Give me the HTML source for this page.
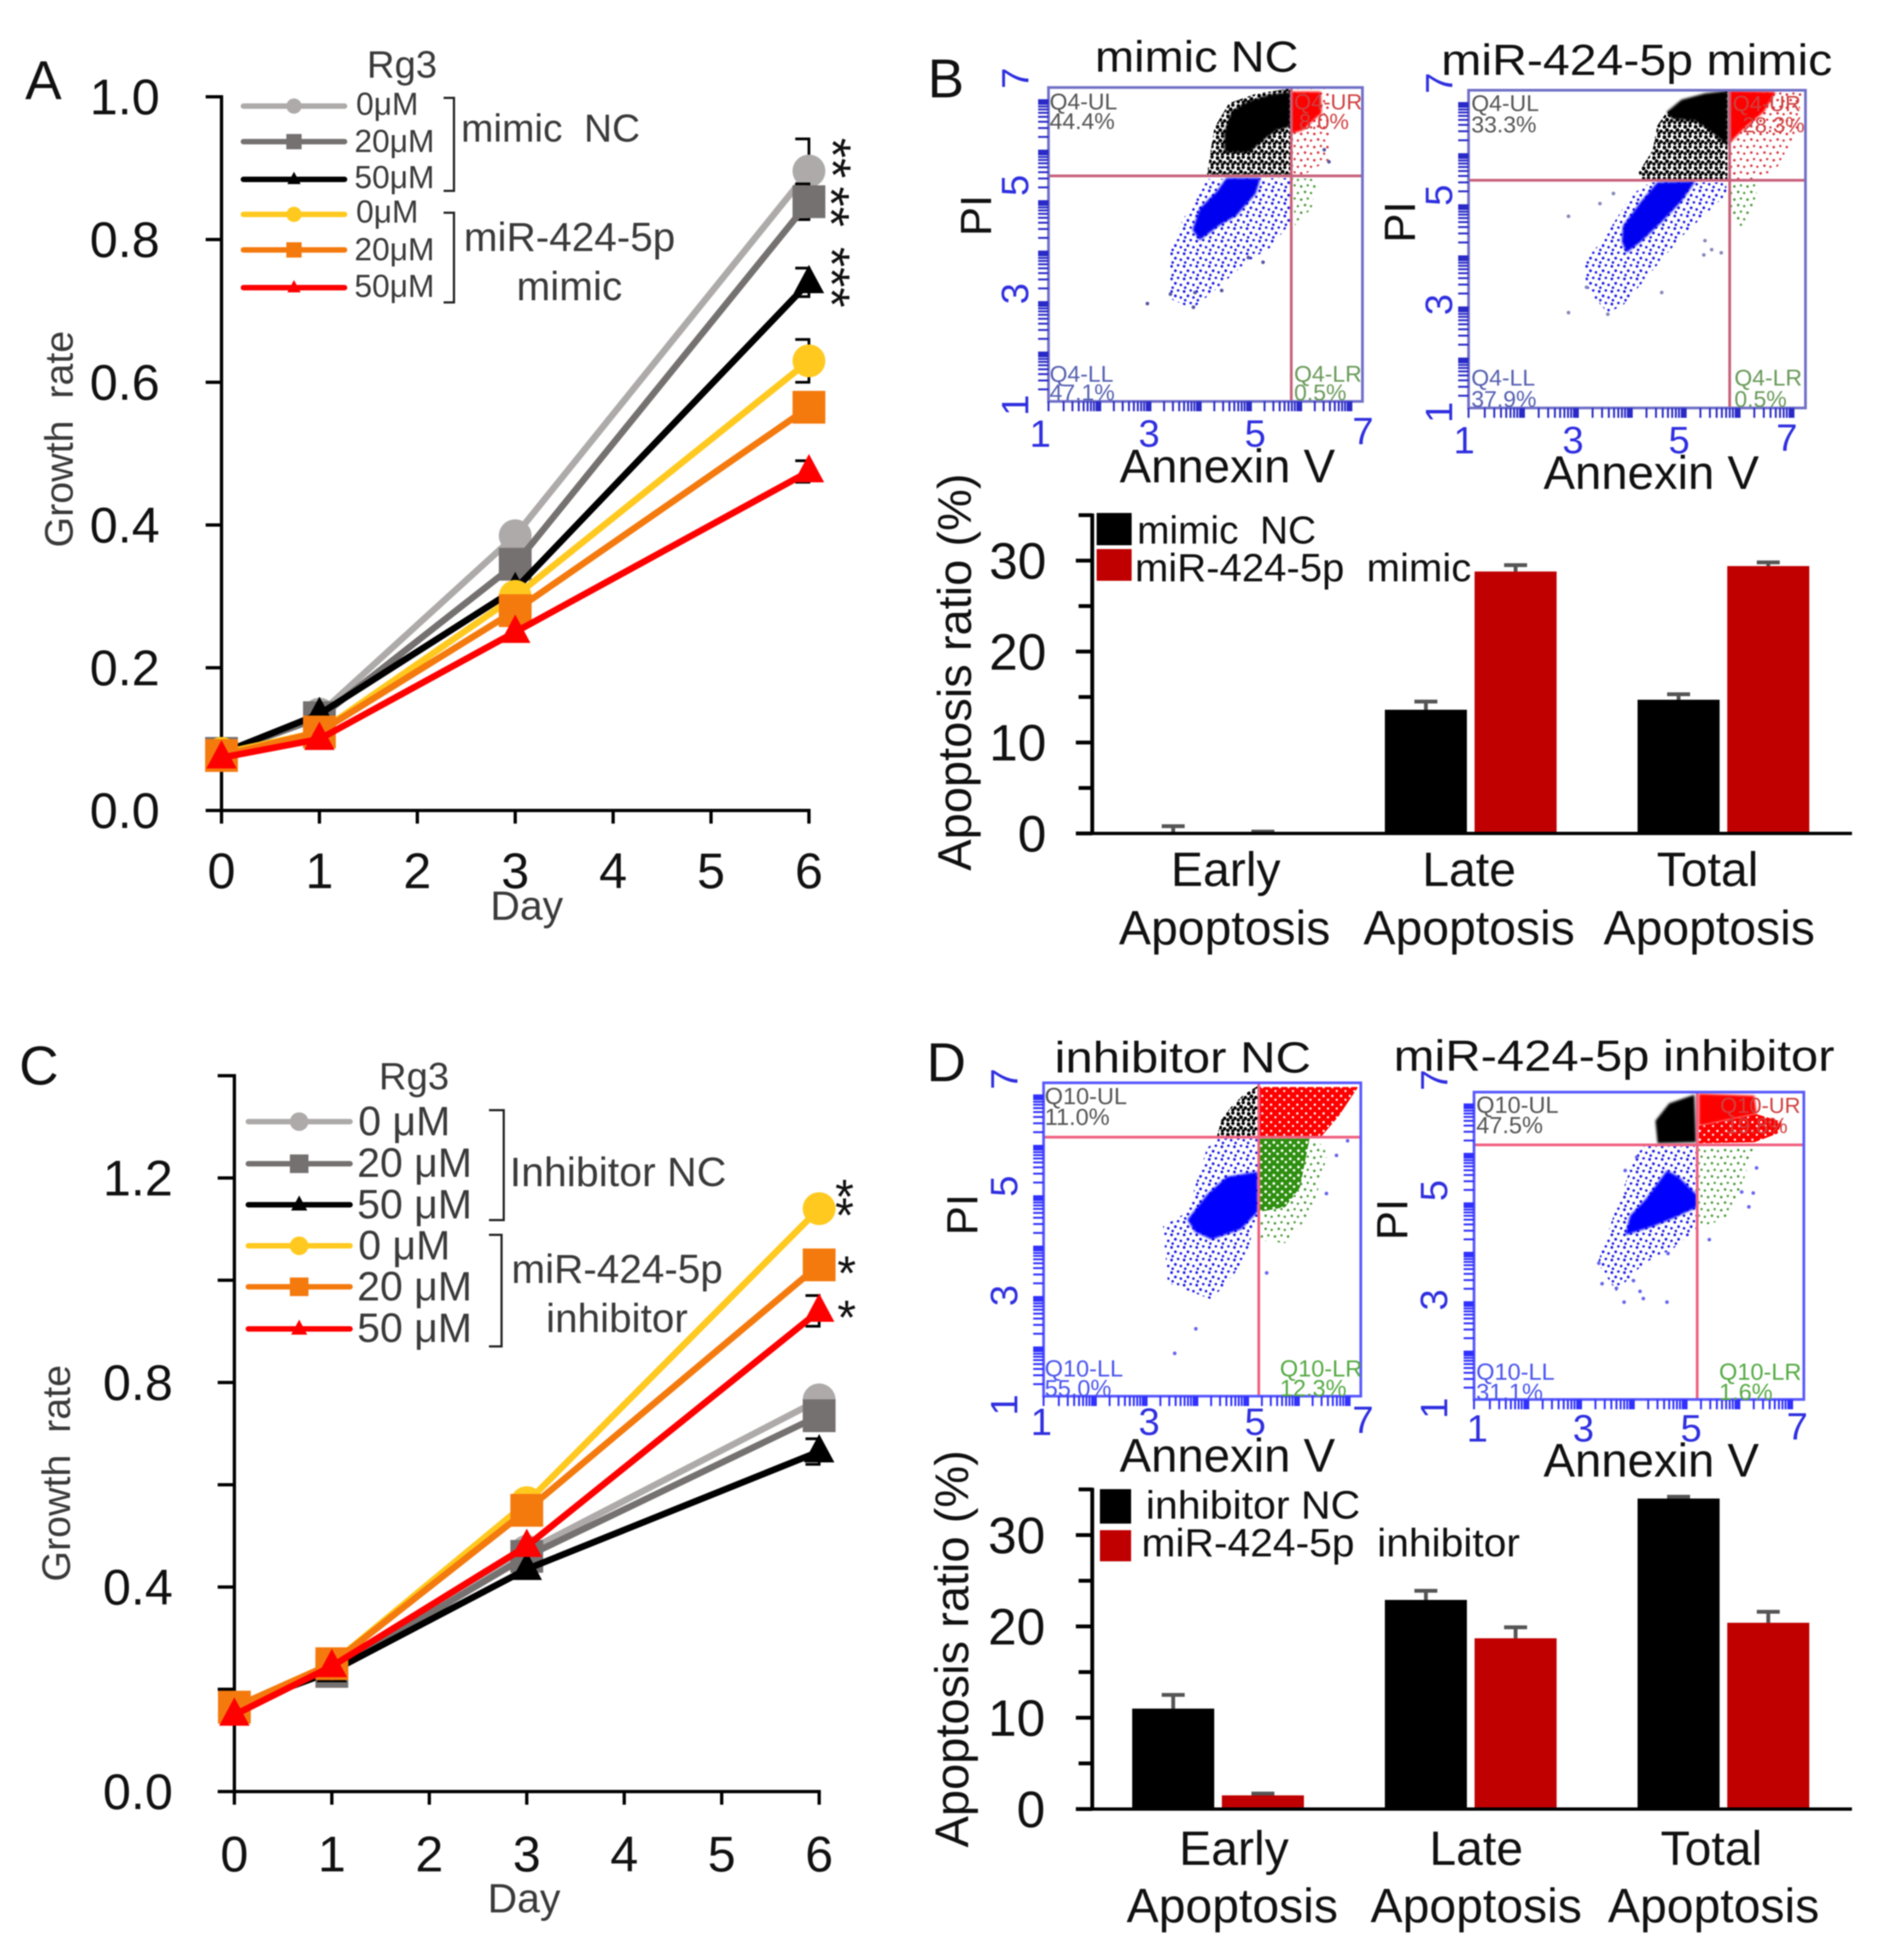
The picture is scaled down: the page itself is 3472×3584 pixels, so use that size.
<!DOCTYPE html>
<html lang="en">
<head>
<meta charset="utf-8">
<title>Growth rate and apoptosis panels</title>
<style>
html,body{margin:0;padding:0;background:#fff;}
svg{display:block;filter:blur(1.1px);}
text{font-family:"Liberation Sans",Arial,sans-serif;fill:#111;}
.gr{fill:#3a3a3a;}
.panel{font-size:100px;}
.ltick{font-size:92px;text-anchor:end;}
.fx{font-size:70px;fill:#2f2fe0;text-anchor:middle;}
.fy{font-size:70px;fill:#2f2fe0;text-anchor:middle;}
.pi{font-size:80px;text-anchor:middle;}
.ann{font-size:86px;}
.ttl{font-size:80px;}
.qg{font-size:42px;fill:#555;}
.qb{font-size:42px;fill:#5560b0;}
.qv{font-size:42px;fill:#6a9a5a;}
.qr{font-size:40px;fill:#d04040;}
.qg2{font-size:43px;fill:#555;}
.qb2{font-size:43px;fill:#4a55ee;}
.qv2{font-size:43px;fill:#55aa44;}
.cat{font-size:88px;text-anchor:middle;}
.star{font-size:95px;}
</style>
</head>
<body>
<svg id="fig" xmlns="http://www.w3.org/2000/svg" width="3472" height="3584" viewBox="0 0 3472 3584">
<defs>
<filter id="soft" x="-5%" y="-5%" width="110%" height="110%"><feGaussianBlur stdDeviation="2.2"/></filter>
<pattern id="dots-black" width="19" height="19" patternUnits="userSpaceOnUse"><circle cx="3" cy="4" r="3.6" fill="#000"/><circle cx="12" cy="2" r="3.2" fill="#000"/><circle cx="8" cy="10" r="3.6" fill="#000"/><circle cx="16" cy="12" r="3.2" fill="#000"/><circle cx="3" cy="15" r="3.2" fill="#000"/><circle cx="12" cy="16" r="3" fill="#000"/></pattern>
<pattern id="dots-blue" width="23" height="23" patternUnits="userSpaceOnUse"><circle cx="3" cy="4" r="2.6" fill="#1a1ae6"/><circle cx="15" cy="2" r="2.4" fill="#1a1ae6"/><circle cx="10" cy="12" r="2.6" fill="#1a1ae6"/><circle cx="20" cy="15" r="2.4" fill="#1a1ae6"/><circle cx="5" cy="20" r="2.4" fill="#1a1ae6"/></pattern>
<pattern id="dots-red" width="24" height="24" patternUnits="userSpaceOnUse"><circle cx="3" cy="5" r="2.4" fill="#d8353f"/><circle cx="15" cy="3" r="2.2" fill="#d8353f"/><circle cx="10" cy="15" r="2.4" fill="#d8353f"/><circle cx="21" cy="17" r="2.2" fill="#d8353f"/></pattern>
<pattern id="dots-red-dense" width="16" height="16" patternUnits="userSpaceOnUse"><rect width="16" height="16" fill="#ff0000"/><circle cx="4" cy="4" r="2.2" fill="#fff"/><circle cx="12" cy="11" r="2" fill="#fff"/></pattern>
<pattern id="dots-green" width="24" height="24" patternUnits="userSpaceOnUse"><circle cx="3" cy="5" r="2.4" fill="#4a9a38"/><circle cx="15" cy="3" r="2.2" fill="#4a9a38"/><circle cx="10" cy="15" r="2.4" fill="#4a9a38"/><circle cx="21" cy="17" r="2.2" fill="#4a9a38"/></pattern>
<pattern id="dots-green-dense" width="15" height="15" patternUnits="userSpaceOnUse"><rect width="15" height="15" fill="#2e8f10"/><circle cx="4" cy="4" r="2.6" fill="#fff"/><circle cx="11" cy="10" r="2.4" fill="#fff"/></pattern>
</defs>

<g id="marks"></g>

<!-- Panel letters -->
<text class="panel" x="46" y="181">A</text>
<text class="panel" x="1696" y="178">B</text>
<text class="panel" x="35" y="1983">C</text>
<text class="panel" x="1694" y="1977">D</text>

<!-- Panel A text -->
<text class="gr" font-size="72" transform="translate(133,803) rotate(-90)" text-anchor="middle">Growth&#160;&#160;rate</text>
<text class="gr" font-size="75" x="963" y="1682" text-anchor="middle">Day</text>
<text class="gr" font-size="70" x="735" y="142" text-anchor="middle">Rg3</text>
<g>
<text class="gr" font-size="58" x="651" y="210">0μM</text>
<text class="gr" font-size="58" x="648" y="278">20μM</text>
<text class="gr" font-size="58" x="648" y="344">50μM</text>
<text class="gr" font-size="58" x="651" y="407">0μM</text>
<text class="gr" font-size="58" x="648" y="476">20μM</text>
<text class="gr" font-size="58" x="648" y="543">50μM</text>
</g>
<path d="M811 179H830V349H811M811 389H830V553H811" fill="none" stroke="#222" stroke-width="4"/>
<text class="gr" font-size="71" x="843" y="259">mimic&#160;&#160;NC</text>
<text class="gr" font-size="74" x="848" y="459">miR-424-5p</text>
<text class="gr" font-size="74" x="1041" y="549" text-anchor="middle">mimic</text>
<text class="star" transform="translate(1490,289) rotate(90)" text-anchor="middle">**</text>
<text class="star" transform="translate(1487,378) rotate(90)" text-anchor="middle">**</text>
<text class="star" transform="translate(1488,507) rotate(90)" text-anchor="middle">***</text>

<!-- Panel C text -->
<text class="gr" font-size="72" transform="translate(128,2694) rotate(-90)" text-anchor="middle">Growth&#160;&#160;rate</text>
<text class="gr" font-size="75" x="958" y="3497" text-anchor="middle">Day</text>
<text class="gr" font-size="70" x="757" y="1992" text-anchor="middle">Rg3</text>
<text class="gr" font-size="75" x="655" y="2076">0 μM</text>
<text class="gr" font-size="75" x="653" y="2152">20 μM</text>
<text class="gr" font-size="75" x="653" y="2228">50 μM</text>
<text class="gr" font-size="75" x="655" y="2303">0 μM</text>
<text class="gr" font-size="75" x="653" y="2378">20 μM</text>
<text class="gr" font-size="75" x="653" y="2454">50 μM</text>
<path d="M894 2030H921V2231H894M894 2258H917V2462H894" fill="none" stroke="#222" stroke-width="4"/>
<text class="gr" font-size="75" x="932" y="2169">Inhibitor NC</text>
<text class="gr" font-size="74" x="935" y="2346">miR-424-5p</text>
<text class="gr" font-size="74" x="1128" y="2436" text-anchor="middle">inhibitor</text>
<text font-size="88" x="1544" y="2218" text-anchor="middle">*</text>
<text font-size="88" x="1544" y="2252" text-anchor="middle">*</text>
<text font-size="88" x="1548" y="2358" text-anchor="middle">*</text>
<text font-size="88" x="1548" y="2439" text-anchor="middle">*</text>

<!-- Flow plot 1 text -->
<text class="ttl" x="2002" y="131" textLength="372" lengthAdjust="spacingAndGlyphs">mimic NC</text>
<text class="fy" transform="translate(1880,143) rotate(-90)">7</text>
<text class="fy" transform="translate(1880,339) rotate(-90)">5</text>
<text class="fy" transform="translate(1880,537) rotate(-90)">3</text>
<text class="fy" transform="translate(1880,741) rotate(-90)">1</text>
<text class="fx" x="1902" y="817">1</text>
<text class="fx" x="2101" y="817">3</text>
<text class="fx" x="2295" y="817">5</text>
<text class="fx" x="2492" y="812">7</text>
<text class="pi" transform="translate(1812,394) rotate(-90)">PI</text>
<text class="ann" x="2047" y="882" textLength="394" lengthAdjust="spacingAndGlyphs">Annexin V</text>

<!-- Flow plot 2 text -->
<text class="ttl" x="2635" y="137" textLength="715" lengthAdjust="spacingAndGlyphs">miR-424-5p mimic</text>
<text class="fy" transform="translate(2655,152) rotate(-90)">7</text>
<text class="fy" transform="translate(2655,357) rotate(-90)">5</text>
<text class="fy" transform="translate(2655,557) rotate(-90)">3</text>
<text class="fy" transform="translate(2655,754) rotate(-90)">1</text>
<text class="fx" x="2677" y="829">1</text>
<text class="fx" x="2876" y="829">3</text>
<text class="fx" x="3070" y="829">5</text>
<text class="fx" x="3267" y="824">7</text>
<text class="pi" transform="translate(2587,406) rotate(-90)">PI</text>
<text class="ann" x="2822" y="894" textLength="394" lengthAdjust="spacingAndGlyphs">Annexin V</text>

<!-- Flow plot 3 text -->
<text class="ttl" x="1928" y="1961" textLength="469" lengthAdjust="spacingAndGlyphs">inhibitor NC</text>
<text class="fy" transform="translate(1860,1973) rotate(-90)">7</text>
<text class="fy" transform="translate(1860,2169) rotate(-90)">5</text>
<text class="fy" transform="translate(1860,2369) rotate(-90)">3</text>
<text class="fy" transform="translate(1860,2569) rotate(-90)">1</text>
<text class="fx" x="1904" y="2624">1</text>
<text class="fx" x="2101" y="2624">3</text>
<text class="fx" x="2295" y="2624">5</text>
<text class="fx" x="2492" y="2620">7</text>
<text class="pi" transform="translate(1787,2221) rotate(-90)">PI</text>
<text class="ann" x="2047" y="2691" textLength="394" lengthAdjust="spacingAndGlyphs">Annexin V</text>

<!-- Flow plot 4 text -->
<text class="ttl" x="2548" y="1958" textLength="806" lengthAdjust="spacingAndGlyphs">miR-424-5p inhibitor</text>
<text class="fy" transform="translate(2646,1975) rotate(-90)">7</text>
<text class="fy" transform="translate(2646,2177) rotate(-90)">5</text>
<text class="fy" transform="translate(2646,2377) rotate(-90)">3</text>
<text class="fy" transform="translate(2646,2575) rotate(-90)">1</text>
<text class="fx" x="2701" y="2636">1</text>
<text class="fx" x="2895" y="2636">3</text>
<text class="fx" x="3092" y="2636">5</text>
<text class="fx" x="3286" y="2632">7</text>
<text class="pi" transform="translate(2573,2230) rotate(-90)">PI</text>
<text class="ann" x="2822" y="2700" textLength="394" lengthAdjust="spacingAndGlyphs">Annexin V</text>

<!-- Quadrant labels -->
<g>
<text class="qg" x="1919" y="200">Q4-UL</text>
<text class="qg" x="1919" y="236">44.4%</text>
<text class="qr" x="2366" y="200">Q4-UR</text>
<text class="qr" x="2375" y="236">8.0%</text>
<text class="qb" x="1919" y="698">Q4-LL</text>
<text class="qb" x="1919" y="732">47.1%</text>
<text class="qv" x="2366" y="698">Q4-LR</text>
<text class="qv" x="2366" y="732">0.5%</text>
</g>
<g>
<text class="qg" x="2690" y="203">Q4-UL</text>
<text class="qg" x="2690" y="242">33.3%</text>
<text class="qr" x="3168" y="203">Q4-UR</text>
<text class="qr" x="3186" y="242">28.3%</text>
<text class="qb" x="2690" y="705">Q4-LL</text>
<text class="qb" x="2690" y="744">37.9%</text>
<text class="qv" x="3171" y="705">Q4-LR</text>
<text class="qv" x="3171" y="744">0.5%</text>
</g>
<g>
<text class="qg2" x="1910" y="2019">Q10-UL</text>
<text class="qg2" x="1910" y="2057">11.0%</text>
<text class="qb2" x="1910" y="2517">Q10-LL</text>
<text class="qb2" x="1910" y="2553">55.0%</text>
<text class="qv2" x="2340" y="2517">Q10-LR</text>
<text class="qv2" x="2340" y="2553">12.3%</text>
</g>
<g>
<text class="qg2" x="2699" y="2035">Q10-UL</text>
<text class="qg2" x="2699" y="2072">47.5%</text>
<text class="qr" x="3145" y="2035">Q10-UR</text>
<text class="qr" x="3155" y="2072">19.8%</text>
<text class="qb2" x="2699" y="2523">Q10-LL</text>
<text class="qb2" x="2699" y="2560">31.1%</text>
<text class="qv2" x="3143" y="2523">Q10-LR</text>
<text class="qv2" x="3143" y="2560">1.6%</text>
</g>

<!-- Panel B bar text -->
<text font-size="86" transform="translate(1775,1229) rotate(-90)" text-anchor="middle">Apoptosis ratio (%)</text>
<rect x="2005" y="938" width="64" height="59" fill="#000"/>
<rect x="2005" y="1004" width="64" height="58" fill="#c00000"/>
<text font-size="71" x="2079" y="994">mimic&#160;&#160;NC</text>
<text font-size="72" x="2075" y="1063" textLength="615" lengthAdjust="spacingAndGlyphs">miR-424-5p&#160;&#160;mimic</text>
<text class="cat" x="2241" y="1620">Early</text>
<text class="cat" x="2239" y="1727">Apoptosis</text>
<text class="cat" x="2686" y="1620">Late</text>
<text class="cat" x="2686" y="1727">Apoptosis</text>
<text class="cat" x="3122" y="1620">Total</text>
<text class="cat" x="3125" y="1727">Apoptosis</text>

<!-- Panel D bar text -->
<text font-size="86" transform="translate(1770,3015) rotate(-90)" text-anchor="middle">Apoptosis ratio (%)</text>
<rect x="2011" y="2723" width="57" height="63" fill="#000"/>
<rect x="2011" y="2798" width="57" height="57" fill="#c00000"/>
<text font-size="72" x="2095" y="2777" textLength="392" lengthAdjust="spacingAndGlyphs">inhibitor NC</text>
<text font-size="72" x="2087" y="2846" textLength="692" lengthAdjust="spacingAndGlyphs">miR-424-5p&#160;&#160;inhibitor</text>
<text class="cat" x="2256" y="3410">Early</text>
<text class="cat" x="2253" y="3515">Apoptosis</text>
<text class="cat" x="2699" y="3410">Late</text>
<text class="cat" x="2699" y="3515">Apoptosis</text>
<text class="cat" x="3129" y="3410">Total</text>
<text class="cat" x="3133" y="3515">Apoptosis</text>
</svg>

<script>
// ---------- Panel A data ----------
const aDays = [0, 1, 3, 6];
const aXTickLabels = ['0', '1', '2', '3', '4', '5', '6'];
const aYTickLabels = ['0.0', '0.2', '0.4', '0.6', '0.8', '1.0'];
const aYTickValues = [0, 0.2, 0.4, 0.6, 0.8, 1.0];
const aNc0 = [0.08, 0.135, 0.385, 0.896];
const aNc20 = [0.08, 0.13, 0.345, 0.853];
const aNc50 = [0.08, 0.135, 0.31, 0.74];
const aMimic0 = [0.08, 0.11, 0.30, 0.63];
const aMimic20 = [0.077, 0.11, 0.28, 0.565];
const aMimic50 = [0.074, 0.10, 0.25, 0.475];
const aErrors = [0.045, 0.025, 0.02, 0.03, 0.01, 0.015];

// ---------- Panel C data ----------
const cDays = [0, 1, 3, 6];
const cXTickLabels = ['0', '1', '2', '3', '4', '5', '6'];
const cYTickValues = [0, 0.2, 0.4, 0.6, 0.8, 1.0, 1.2, 1.4];
const cYTickLabels = ['0.0', '', '0.4', '', '0.8', '', '1.2', ''];
const cNc0 = [0.165, 0.24, 0.47, 0.766];
const cNc20 = [0.165, 0.235, 0.46, 0.735];
const cNc50 = [0.165, 0.235, 0.435, 0.665];
const cInh0 = [0.165, 0.25, 0.565, 1.14];
const cInh20 = [0.165, 0.25, 0.55, 1.03];
const cInh50 = [0.15, 0.245, 0.48, 0.94];
const cErrors = [0.01, 0.01, 0.025, 0.01, 0.01, 0.03];

// ---------- Bar chart data ----------
const barCategories = ['Early Apoptosis', 'Late Apoptosis', 'Total Apoptosis'];
const barTickValues = [0, 5, 10, 15, 20, 25, 30, 35];
const barTickLabels = ['0', '', '10', '', '20', '', '30', ''];
const bMimicNc = [0, 13.6, 14.7];
const bMimicNcErr = [0.8, 0.9, 0.6];
const bMirMimic = [0, 28.8, 29.4];
const bMirMimicErr = [0.2, 0.7, 0.4];
const dInhibitorNc = [11.0, 22.9, 34.0];
const dInhibitorNcErr = [1.5, 1.0, 0.2];
const dMirInhibitor = [1.5, 18.7, 20.4];
const dMirInhibitorErr = [0.2, 1.2, 1.2];

// ---------- Flow cytometry data (Annexin V, PI log-axis units) ----------
const flowDecades = [1, 2, 3, 4, 5, 6];
const flowMinors = [1, 2, 3, 4, 5, 6, 7, 8, 9, 10];

const f1BlackHalo = [[4.03,5.34],[4.17,6.23],[4.45,6.70],[4.96,6.88],[5.62,6.98],[5.62,5.34]];
const f1BlackCore = [[4.36,5.76],[4.36,6.15],[4.50,6.55],[4.78,6.72],[5.20,6.86],[5.62,6.92],[5.62,6.25],[5.35,6.18],[5.05,5.95],[4.85,5.76]];
const f1BlueHalo = [[3.33,3.94],[3.56,4.46],[4.03,5.25],[5.62,5.27],[5.62,4.41],[5.24,3.94],[4.78,3.66],[4.26,3.19],[3.75,2.77],[3.33,2.96]];
const f1BlueCore = [[3.75,4.28],[3.89,4.69],[4.22,5.02],[4.40,5.27],[5.05,5.27],[4.96,4.97],[4.59,4.55],[4.26,4.36],[3.89,4.08]];
const f1RedHalo = [[5.64,5.34],[5.64,6.98],[6.36,6.98],[6.36,5.62],[5.90,5.34]];
const f1RedCore = [[5.64,6.92],[6.20,6.92],[6.22,6.51],[5.85,6.18],[5.64,6.12]];
const f1GreenHalo = [[5.66,5.27],[6.13,5.25],[6.03,4.69],[5.71,4.36]];
const f1Sparse = [[2.89,2.87],[3.80,3.08],[4.31,3.12],[3.77,2.80],[3.33,3.05],[6.36,5.58],[6.27,5.81],[5.10,3.66],[4.82,3.75]];

const f2BlackHalo = [[4.03,5.45],[4.28,5.87],[4.36,6.33],[4.53,6.59],[5.61,6.99],[5.61,5.32],[4.07,5.32]];
const f2BlackCore = [[4.53,6.59],[4.79,6.82],[5.21,6.94],[5.61,6.99],[5.61,5.95],[5.33,6.21],[5.04,6.42],[4.62,6.46]];
const f2BlueHalo = [[3.06,3.76],[3.43,4.23],[3.90,5.03],[4.24,5.26],[5.59,5.26],[5.59,5.03],[4.79,4.23],[4.24,3.55],[3.77,2.96],[3.48,2.79],[3.10,3.26]];
const f2BlueCore = [[3.75,4.44],[4.07,4.90],[4.36,5.26],[5.04,5.28],[4.79,4.90],[4.45,4.52],[4.07,4.14],[3.81,3.93],[3.73,4.14]];
const f2RedHalo = [[5.65,6.99],[6.94,6.99],[6.85,6.25],[6.47,5.49],[6.18,5.32],[5.65,5.32]];
const f2RedCore = [[5.65,6.99],[6.47,6.97],[6.26,6.59],[5.92,6.29],[5.65,6.0]];
const f2GreenHalo = [[5.67,5.26],[6.18,5.26],[6.05,4.73],[5.84,4.39],[5.67,4.73]];
const f2Sparse = [[2.78,4.62],[2.78,2.80],[3.48,2.77],[3.34,4.86],[3.58,5.05],[4.44,3.18],[3.10,3.28],[5.21,4.16],[5.33,3.99],[5.19,3.89],[5.5,3.93]];

const f3BlackCore = [[4.55,6.54],[4.78,6.77],[5.05,6.94],[5.05,5.98],[4.28,5.98],[4.37,6.31]];
const f3RedCore = [[5.08,6.92],[6.95,6.92],[6.58,6.36],[6.26,5.98],[5.08,5.98]];
const f3BlueHalo = [[3.26,4.25],[3.72,4.53],[4.09,5.75],[4.30,5.93],[5.05,5.93],[5.05,4.44],[4.78,3.55],[4.18,2.85],[3.35,3.17]];
const f3BlueCore = [[3.72,4.38],[4.09,4.86],[4.46,5.20],[5.05,5.30],[5.05,4.53],[4.74,4.20],[4.18,4.00],[3.86,4.15]];
const f3GreenHalo = [[5.09,4.53],[6.03,5.93],[6.40,5.75],[6.08,4.53],[5.57,3.93],[5.11,3.98]];
const f3GreenCore = [[5.09,5.93],[6.03,5.93],[5.85,5.0],[5.57,4.62],[5.09,4.53]];
const f3Sparse = [[3.88,2.29],[3.48,1.82],[5.22,3.36],[6.54,5.61],[6.75,5.89],[6.35,4.88]];

const f4BlackCore = [[4.30,6.44],[4.55,6.78],[5.01,6.95],[5.04,6.02],[4.34,6.0]];
const f4RedHalo = [[5.09,6.34],[5.30,6.38],[6.14,6.57],[6.60,6.42],[6.52,6.19],[6.10,6.02],[5.09,6.0]];
const f4RedCore = [[5.09,6.97],[6.10,6.93],[6.14,6.57],[5.30,6.38],[5.09,6.34]];
const f4BlueHalo = [[3.25,3.66],[3.54,4.59],[3.92,5.73],[4.09,5.94],[5.05,5.94],[5.05,4.33],[4.63,3.95],[4.09,3.66],[3.59,3.11]];
const f4BlueCore = [[3.84,4.59],[4.13,4.92],[4.51,5.47],[4.72,5.35],[5.05,5.0],[5.05,4.75],[4.63,4.54],[4.26,4.38],[3.75,4.21]];
const f4GreenHalo = [[5.09,5.94],[6.10,5.94],[5.85,5.09],[5.55,4.50],[5.09,4.38]];
const f4Sparse = [[3.27,3.66],[3.33,3.26],[3.73,2.90],[4.08,2.97],[4.51,2.90],[4.02,3.11],[3.90,3.32],[3.59,3.17],[3.75,5.47],[3.96,5.73],[5.28,4.12],[6.08,5.03],[6.0,4.76],[6.14,5.52],[5.87,5.05],[4.53,3.85]];

// ---------- Drawing ----------
const NS = 'http://www.w3.org/2000/svg';
const root = document.getElementById('marks');

function mk(tag, parent, attrs) {
  const el = document.createElementNS(NS, tag);
  for (const k in attrs) el.setAttribute(k, attrs[k]);
  parent.appendChild(el);
  return el;
}

const seriesColors = ['#aeaaaa', '#767171', '#000000', '#ffc91f', '#f47a0e', '#fe0000'];
const seriesShapes = ['circle', 'square', 'triangle', 'circle', 'square', 'triangle'];

function marker(parent, shape, x, y, size, color) {
  let el;
  if (shape === 'circle') {
    el = mk('circle', parent, {cx: x, cy: y, r: size, fill: color});
  } else if (shape === 'square') {
    el = mk('rect', parent, {x: x - size, y: y - size, width: size * 2, height: size * 2, fill: color});
  } else {
    el = mk('polygon', parent, {points: (x - size * 0.87) + ',' + (y + size * 0.62) + ' ' + (x + size * 0.87) + ',' + (y + size * 0.62) + ' ' + x + ',' + (y - size),  fill: color});
  }
  
  
  return el;
}

function lineChart(prefix, days, series, errors, xs, ys, xTicks, yVals, yLabels, xAxisLeft, labelRight, xLabelY, legend) {
  const g = mk('g', root, {});
  
  
  const top = ys(yVals[yVals.length - 1]);
  const bottom = ys(0);
  const yAxis = mk('line', g, {x1: xs(0), x2: xs(0), y1: top - 3, y2: bottom + 3, stroke: '#000', 'stroke-width': 6});
  
  
  const xAxis = mk('line', g, {x1: xAxisLeft, x2: xs(6) + 3, y1: bottom, y2: bottom, stroke: '#000', 'stroke-width': 6});
  
  
  yVals.forEach(function (v, i) {
    const tick = mk('line', g, {x1: xAxisLeft, x2: xs(0), y1: ys(v), y2: ys(v), stroke: '#000', 'stroke-width': 6});
    
    
    if (yLabels[i]) {
      const t = mk('text', g, {x: labelRight, y: ys(v) + 32, class: 'ltick'});
      t.textContent = yLabels[i];
      
      
    }
  });
  xTicks.forEach(function (lab, i) {
    const tick = mk('line', g, {x1: xs(i), x2: xs(i), y1: bottom, y2: bottom + 24, stroke: '#000', 'stroke-width': 6});
    
    
    const t = mk('text', g, {x: xs(i), y: xLabelY, 'font-size': 92, 'text-anchor': 'middle'});
    t.textContent = lab;
    
    
  });
  series.forEach(function (vals, s) {
    const sg = mk('g', g, {});
    
    
    const lastX = xs(days[days.length - 1]);
    const lastV = vals[vals.length - 1];
    const eTop = ys(lastV + errors[s]);
    const eBot = ys(lastV - errors[s]);
    const err = mk('path', sg, {d: 'M' + (lastX - 25) + ' ' + eTop + 'H' + lastX + 'V' + eBot + 'H' + (lastX - 25), fill: 'none', stroke: '#000', 'stroke-width': 5});
    
    
    const pts = vals.map(function (v, i) { return xs(days[i]) + ',' + ys(v); }).join(' ');
    const line = mk('polyline', sg, {points: pts, fill: 'none', stroke: seriesColors[s], 'stroke-width': 12, 'stroke-linejoin': 'round'});
    
    
    vals.forEach(function (v, i) {
      marker(sg, seriesShapes[s], xs(days[i]), ys(v), seriesShapes[s] === 'triangle' ? 32 : 30, seriesColors[s]);
    });
  });
  legend.ys.forEach(function (ly, s) {
    const l = mk('line', g, {x1: legend.x1, x2: legend.x2, y1: ly, y2: ly, stroke: seriesColors[s], 'stroke-width': legend.w, 'stroke-linecap': 'round'});
    
    
    marker(g, seriesShapes[s], (legend.x1 + legend.x2) / 2, ly, legend.size, seriesColors[s]);
  });
}

lineChart('a', aDays, [aNc0, aNc20, aNc50, aMimic0, aMimic20, aMimic50], aErrors,
  function (d) { return 405 + d * 179; }, function (v) { return 1482 - v * 1305; },
  aXTickLabels, aYTickValues, aYTickLabels, 376, 292, 1624,
  {x1: 445, x2: 630, ys: [194, 259, 328, 392, 457, 526], w: 10, size: 14});

lineChart('c', cDays, [cNc0, cNc20, cNc50, cInh0, cInh20, cInh50], cErrors,
  function (d) { return 428.5 + d * 178.2; }, function (v) { return 3276 - v * 935; },
  cXTickLabels, cYTickValues, cYTickLabels, 398, 316, 3422,
  {x1: 454, x2: 640, ys: [2051, 2128, 2203, 2278, 2353, 2430], w: 10, size: 17});

function barChart(prefix, blackVals, blackErr, redVals, redErr, ys, labelRight) {
  const g = mk('g', root, {});
  
  
  const axisX = 1997;
  const xBar = function (cat, ser) { return 2227 + cat * 462 + (ser === 0 ? -82 : 82); };
  const barW = 150;
  [[blackVals, blackErr, '#000000', 'black'], [redVals, redErr, '#c00000', 'red']].forEach(function (set, ser) {
    barCategories.forEach(function (c, i) {
      const x = xBar(i, ser);
      const v = set[0][i];
      const eY = ys(v + set[1][i]);
      const ev = mk('path', g, {d: 'M' + (x - 21) + ' ' + eY + 'H' + (x + 21) + 'M' + x + ' ' + eY + 'V' + ys(v), fill: 'none', stroke: '#555', 'stroke-width': 7});
      
      
      const bar = mk('rect', g, {x: x - barW / 2, y: ys(v), width: barW, height: ys(0) - ys(v), fill: set[2]});
      
      
    });
  });
  const yAxis = mk('line', g, {x1: axisX, x2: axisX, y1: ys(35) - 3, y2: ys(0), stroke: '#000', 'stroke-width': 7});
  
  
  const xAxis = mk('line', g, {x1: 1968, x2: 3386, y1: ys(0), y2: ys(0), stroke: '#000', 'stroke-width': 6});
  
  
  barTickValues.forEach(function (v, i) {
    const tick = mk('line', g, {x1: barTickLabels[i] ? 1967 : 1972, x2: axisX, y1: ys(v), y2: ys(v), stroke: '#000', 'stroke-width': 7});
    
    
    if (barTickLabels[i]) {
      const t = mk('text', g, {x: labelRight, y: ys(v) + 33, 'font-size': 94, 'text-anchor': 'end'});
      t.textContent = barTickLabels[i];
      
      
    }
  });
}

barChart('b', bMimicNc, bMimicNcErr, bMirMimic, bMirMimicErr, function (v) { return 1524 - v * 16.63; }, 1913);
barChart('d', dInhibitorNc, dInhibitorNcErr, dMirInhibitor, dMirInhibitorErr, function (v) { return 3308 - v * 16.7; }, 1911);

function flowPlot(prefix, geom, layers, sparse) {
  const g = mk('g', root, {});
  
  
  const fx = function (v) { return geom.left + (v - 1) / 6 * (geom.right - geom.left); };
  const fy = function (v) { return geom.bottom - (v - 1) / 6 * (geom.bottom - geom.top); };
  layers.forEach(function (layer) {
    const p = mk('polygon', g, {points: layer[0].map(function (q) { return fx(q[0]) + ',' + fy(q[1]); }).join(' '), fill: layer[1]});
    if (layer[1].charAt(0) === '#') p.setAttribute('filter', 'url(#soft)');
    
    
  });
  sparse.forEach(function (q) {
    const c = mk('circle', g, {cx: fx(q[0]), cy: fy(q[1]), r: 3.4, fill: geom.sparseColor});
    
    
  });
  const gateH = mk('line', g, {x1: geom.left, x2: geom.right, y1: fy(geom.gateY), y2: fy(geom.gateY), stroke: geom.gateColor, 'stroke-width': 5});
  
  
  const gateV = mk('line', g, {x1: fx(geom.gateX), x2: fx(geom.gateX), y1: geom.top, y2: geom.bottom, stroke: geom.gateColor, 'stroke-width': 5});
  
  
  const box = mk('rect', g, {x: geom.left, y: geom.top, width: geom.right - geom.left, height: geom.bottom - geom.top, fill: 'none', stroke: geom.boxColor, 'stroke-width': 5});
  
  
  flowDecades.forEach(function (d) {
    flowMinors.forEach(function (m) {
      const w = m === 10 ? 9 : 3.5;
      const posY = -0.025 + 0.965 * (d + Math.log10(m));
      const posX = 0.04 + 0.96 * (d + Math.log10(m));
      if (posY >= 1) {
        const ty = mk('line', g, {x1: geom.left - 19, x2: geom.left, y1: fy(posY), y2: fy(posY), stroke: geom.tickColor, 'stroke-width': w});
        
        
      }
      const tx = mk('line', g, {x1: fx(posX), x2: fx(posX), y1: geom.bottom, y2: geom.bottom + 18, stroke: geom.tickColor, 'stroke-width': w});
      
      
    });
  });
}

flowPlot('flow1', {left: 1917, right: 2491, top: 160, bottom: 734, gateX: 5.64, gateY: 5.31, gateColor: '#c8607a', boxColor: '#7070c8', tickColor: '#2a2ac8', sparseColor: '#5555a0'},
  [[f1BlackHalo, 'url(#dots-black)'], [f1BlackCore, '#000000'], [f1BlueHalo, 'url(#dots-blue)'], [f1BlueCore, '#0000f0'], [f1RedHalo, 'url(#dots-red)'], [f1RedCore, '#ff0000'], [f1GreenHalo, 'url(#dots-green)']], f1Sparse);
flowPlot('flow2', {left: 2685, right: 3301, top: 165, bottom: 746, gateX: 5.65, gateY: 5.30, gateColor: '#c8607a', boxColor: '#7070c8', tickColor: '#2a2ac8', sparseColor: '#8888bb'},
  [[f2BlackHalo, 'url(#dots-black)'], [f2BlackCore, '#000000'], [f2BlueHalo, 'url(#dots-blue)'], [f2BlueCore, '#0000f0'], [f2RedHalo, 'url(#dots-red)'], [f2RedCore, '#ff0000'], [f2GreenHalo, 'url(#dots-green)']], f2Sparse);
flowPlot('flow3', {left: 1908, right: 2488, top: 1980, bottom: 2553, gateX: 5.07, gateY: 5.96, gateColor: '#f06080', boxColor: '#5a5aff', tickColor: '#3030ff', sparseColor: '#6666ee'},
  [[f3BlackCore, 'url(#dots-black)'], [f3RedCore, 'url(#dots-red-dense)'], [f3BlueHalo, 'url(#dots-blue)'], [f3BlueCore, '#0000ff'], [f3GreenHalo, 'url(#dots-green)'], [f3GreenCore, 'url(#dots-green-dense)']], f3Sparse);
flowPlot('flow4', {left: 2695, right: 3298, top: 1997, bottom: 2559, gateX: 5.06, gateY: 5.97, gateColor: '#f06080', boxColor: '#5a5aff', tickColor: '#3030ff', sparseColor: '#6666ee'},
  [[f4BlackCore, '#000000'], [f4RedHalo, 'url(#dots-red-dense)'], [f4RedCore, '#ff0000'], [f4BlueHalo, 'url(#dots-blue)'], [f4BlueCore, '#0000ff'], [f4GreenHalo, 'url(#dots-green)']], f4Sparse);
</script>
</body>
</html>
